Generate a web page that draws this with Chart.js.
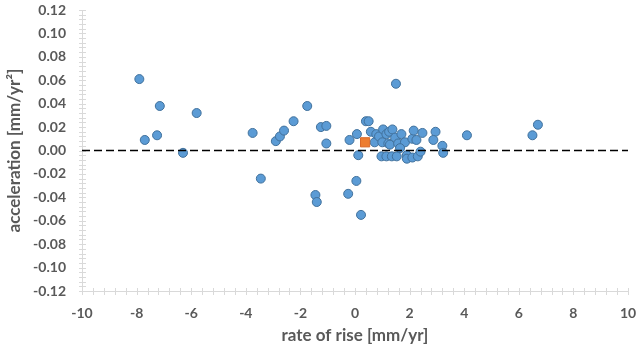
<!DOCTYPE html>
<html>
<head>
<meta charset="utf-8">
<script src="https://cdn.jsdelivr.net/npm/chart.js@4/dist/chart.umd.min.js"></script>
<style>
  html, body { margin: 0; padding: 0; background: #ffffff; }
  #c { display: block; }
</style>
</head>
<body>
<canvas id="c" width="640" height="348"></canvas>
<script>
// Tide-gauge stations: linear rate of rise vs. fitted acceleration
const stationRate = [
  -7.9, -7.7, -7.15, -7.25, -6.3, -5.8, -3.75, -3.45, -2.9, -2.75,
  -2.6, -2.25, -1.75, -1.45, -1.4, -1.25, -1.05, -1.05, -0.25, 0.05,
  -0.2, 0.07, 0.12, 0.22, 0.4, 0.5, 1.5,
  0.58, 0.72, 0.78, 0.88, 1.0, 1.03, 1.15, 1.25, 1.37, 1.22,
  1.28, 1.47, 1.58, 1.7, 1.83, 2.1, 2.15, 2.25, 2.47, 2.95,
  2.87, 3.2, 3.23, 4.1, 0.97, 1.15, 1.35, 1.53, 1.9, 1.9,
  2.1, 2.3, 2.4, 1.65, 6.5, 6.7
];
const stationAccel = [
  0.061, 0.009, 0.038, 0.013, -0.002, 0.032, 0.015, -0.024, 0.008, 0.012,
  0.017, 0.025, 0.038, -0.038, -0.044, 0.020, 0.021, 0.006, -0.037, -0.026,
  0.009, 0.014, -0.004, -0.055, 0.025, 0.025, 0.057,
  0.016, 0.007, 0.014, 0.012, 0.007, 0.018, 0.014, 0.016, 0.018, 0.006,
  0.005, 0.011, 0.006, 0.014, 0.007, 0.010, 0.017, 0.009, 0.015, 0.016,
  0.009, 0.004, -0.002, 0.013, -0.005, -0.005, -0.005, -0.005, -0.004, -0.007,
  -0.006, -0.005, -0.001, 0.002, 0.013, 0.022
];

// Highlighted station
const markedRate = [0.37];
const markedAccel = [0.007];

// Zero-acceleration reference
const zeroLineX = [-10, 10];
const zeroLineY = [0, 0];

// Axis ranges and tick spacing
const xRange = [-10, 10];
const yRange = [-0.12, 0.12];
const xMajor = 2, xMinor = 0.4;
const yMajor = 0.02, yMinor = 0.004;

const toPoints = (xs, ys) => xs.map((x, i) => ({ x: x, y: ys[i] }));

const labelColor = '#595959';
const axisColor = '#d9d9d9';
const tickFont = { family: 'Lato', weight: 'bold', size: 14 };
const titleFont = { family: 'Lato', weight: 'bold', size: 17 };

const isMajor = (v, step) => Math.abs(v / step - Math.round(v / step)) < 1e-6;

// Small tick marks crossing both axis lines
const crossTicks = {
  id: 'crossTicks',
  beforeDatasetsDraw(chart) {
    const ctx = chart.ctx;
    const xs = chart.scales.x, ys = chart.scales.y;
    const area = chart.chartArea;
    ctx.save();
    ctx.strokeStyle = axisColor;
    ctx.lineWidth = 1;
    ctx.beginPath();
    xs.ticks.forEach(t => {
      const px = Math.round(xs.getPixelForValue(t.value)) + 0.5;
      ctx.moveTo(px, area.bottom - 3);
      ctx.lineTo(px, area.bottom + 4);
    });
    ys.ticks.forEach(t => {
      const py = Math.round(ys.getPixelForValue(t.value)) + 0.5;
      ctx.moveTo(area.left - 3, py);
      ctx.lineTo(area.left + 4, py);
    });
    ctx.stroke();
    ctx.restore();
  }
};

new Chart(document.getElementById('c'), {
  type: 'scatter',
  data: {
    datasets: [
      {
        type: 'line',
        data: toPoints(zeroLineX, zeroLineY),
        borderColor: '#000000',
        borderWidth: 1.5,
        borderDash: [8, 4],
        pointRadius: 0,
        fill: false
      },
      {
        data: toPoints(markedRate, markedAccel),
        pointStyle: 'rect',
        pointRadius: 6.5,
        backgroundColor: '#ed7d31',
        borderColor: '#d9692a',
        borderWidth: 1
      },
      {
        data: toPoints(stationRate, stationAccel),
        pointRadius: 4.5,
        backgroundColor: '#5b9bd5',
        borderColor: '#41719c',
        borderWidth: 1
      }
    ]
  },
  options: {
    responsive: false,
    animation: false,
    layout: { padding: { top: 10, right: 12, left: 0, bottom: 0 } },
    plugins: {
      legend: { display: false },
      tooltip: { enabled: false }
    },
    scales: {
      x: {
        type: 'linear',
        min: xRange[0],
        max: xRange[1],
        afterFit(scale) {
          scale.height = 57;
          scale.paddingLeft = 0;
          scale.paddingRight = 0;
        },
        grid: { display: false, drawTicks: false },
        border: { display: true, color: axisColor, width: 1 },
        ticks: {
          stepSize: xMinor,
          autoSkip: false,
          maxRotation: 0,
          padding: 14,
          color: labelColor,
          font: tickFont,
          callback: v => isMajor(v, xMajor) ? String(Math.round(v)) : ''
        },
        title: {
          display: true,
          text: 'rate of rise [mm/yr]',
          color: labelColor,
          font: titleFont,
          padding: { top: 0, bottom: 2 }
        }
      },
      y: {
        type: 'linear',
        min: yRange[0],
        max: yRange[1],
        afterFit(scale) {
          scale.width = 82;
          scale.paddingTop = 0;
          scale.paddingBottom = 0;
        },
        grid: { display: false, drawTicks: false },
        border: { display: true, color: axisColor, width: 1 },
        ticks: {
          stepSize: yMinor,
          autoSkip: false,
          padding: 16,
          color: labelColor,
          font: tickFont,
          callback: v => isMajor(v, yMajor) ? v.toFixed(2) : ''
        },
        title: {
          display: true,
          text: 'acceleration [mm/yr²]',
          color: labelColor,
          font: titleFont,
          padding: { top: 4, bottom: 0 }
        }
      }
    }
  },
  plugins: [crossTicks]
});
</script>
</body>
</html>
